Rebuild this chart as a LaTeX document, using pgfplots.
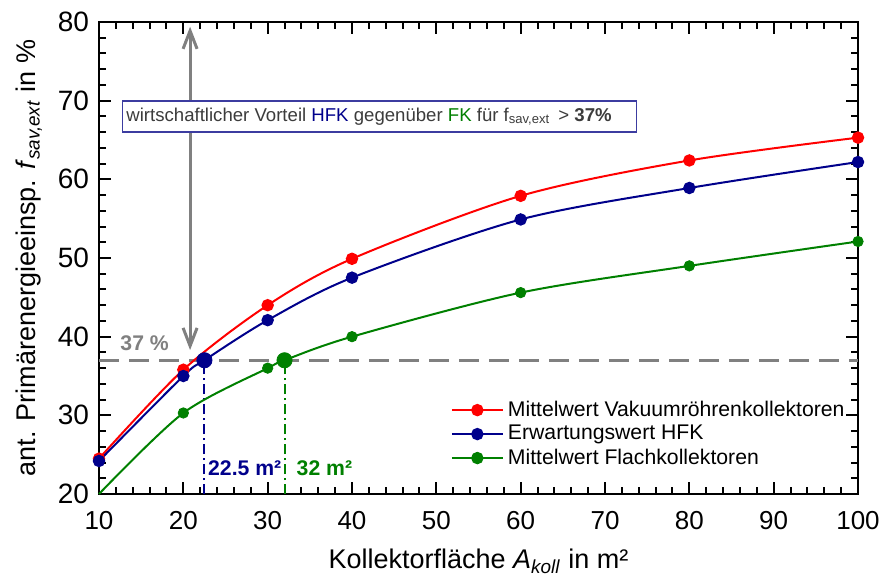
\documentclass[border=0pt]{standalone}
\usepackage{fontspec}
\setmainfont{Liberation Sans}
\usepackage{pgfplots}
\pgfplotsset{compat=1.18}
\usetikzlibrary{arrows.meta}
\definecolor{vred}{RGB}{255,0,0}
\definecolor{hblue}{RGB}{0,0,139}
\definecolor{fgreen}{RGB}{0,128,0}
\definecolor{agray}{RGB}{128,128,128}
\definecolor{boxblue}{RGB}{60,60,160}
\definecolor{txtgray}{RGB}{60,60,60}
\newcommand\tickfont{\fontsize{13}{15}\selectfont}
\newcommand\ytickfont{\fontsize{14}{16}\selectfont}
\newcommand\labfont{\fontsize{13.5}{16}\selectfont}
\newcommand\legfont{\fontsize{10.6}{12}\selectfont}
\newcommand\boxfont{\fontsize{9.3}{11}\selectfont}
\begin{document}
\begin{tikzpicture}
\begin{axis}[
  name=ax,
  width=379.5pt, height=236pt, scale only axis,
  xmin=10, xmax=100, ymin=20, ymax=80,
  xtick={10,20,...,100}, ytick={20,30,...,80},
  minor x tick num=4, minor y tick num=4,
  tick align=inside,
  major tick length=6pt, minor tick length=3.5pt,
  every tick/.style={black, line width=1pt},
  axis line style={line width=1pt},
  /pgf/number format/assume math mode=true,
  xticklabel style={font=\tickfont, yshift=-5pt},
  yticklabel style={font=\ytickfont, xshift=-1.5pt},
  xlabel={Kollektorfläche \textit{A}\textsubscript{\textit{koll}} in m²},
  ylabel={ant. Primärenergieeinsp. \textit{f}\textsubscript{\textit{sav,ext}} in \%},
  label style={font=\labfont},
  xlabel style={yshift=-3pt},
  ylabel style={yshift=1pt},
  legend style={font=\legfont, draw=none, fill=none, at={(0.455,0.215)}, anchor=north west, row sep=-1pt},
  legend cell align=left,
  legend image code/.code={\draw[mark repeat=2,mark phase=2] plot coordinates {(0cm,0cm)(0.45cm,0cm)(0.9cm,0cm)};},
  clip=false,
]
% 37 % line
\addplot[agray, line width=1.3pt, dash pattern=on 10pt off 5pt, forget plot] coordinates {(10,37) (100,37)};
% dash-dot verticals
\addplot[hblue, line width=1pt, dash pattern=on 5pt off 2pt on 1pt off 2pt, forget plot] coordinates {(22.5,20) (22.5,37)};
\addplot[fgreen, line width=1pt, dash pattern=on 5pt off 2pt on 1pt off 2pt, forget plot] coordinates {(32,20) (32,37)};
% arrow
\addplot[agray, line width=1.5pt, {Straight Barb[length=9pt,width=7pt]}-{Straight Barb[length=9pt,width=7pt]}, forget plot] coordinates {(20.8,38.3) (20.8,79.4)};
% series
\addplot[vred, line width=1pt, smooth, mark=*, mark size=2.6pt, mark options={solid, fill=vred}] coordinates {
(10,24.5) (20,35.8) (30,44.0) (40,49.9) (60,57.9) (80,62.4) (100,65.3)};
\addlegendentry{Mittelwert Vakuumröhrenkollektoren}
\addplot[hblue, line width=1pt, smooth, mark=*, mark size=2.6pt, mark options={solid, fill=hblue}] coordinates {
(10,24.2) (20,35.0) (22.5,37.0) (30,42.1) (40,47.5) (60,54.9) (80,58.9) (100,62.2)};
\addlegendentry{Erwartungswert HFK}
\addplot[fgreen, line width=1pt, smooth, forget plot] coordinates {
(10,20.0) (20,30.3) (30,36.0) (32,37.0) (40,40.0) (60,45.6) (80,49.0) (100,52.1)};
\addplot[fgreen, only marks, mark=*, mark size=2.6pt, forget plot] coordinates {
(20,30.3) (30,36.0) (40,40.0) (60,45.6) (80,49.0) (100,52.1)};
\addlegendimage{fgreen, line width=1pt, mark=*, mark size=2.6pt, mark options={solid, fill=fgreen}}
\addlegendentry{Mittelwert Flachkollektoren}
% big markers
\addplot[only marks, mark=*, mark size=3.8pt, hblue, forget plot] coordinates {(22.5,37)};
\addplot[only marks, mark=*, mark size=3.8pt, fgreen, forget plot] coordinates {(32,37)};
% annotations
\node[draw=boxblue, fill=white, line width=0.7pt, anchor=west, minimum height=15.5pt, minimum width=257pt, inner xsep=2pt, inner ysep=2pt, text=txtgray, font=\boxfont] (bx) at (axis cs:12.73,68) {};
\node[anchor=west, text=txtgray, font=\boxfont, inner sep=0pt] at ([xshift=2pt]bx.west) {wirtschaftlicher Vorteil \textcolor{hblue}{HFK} gegenüber \textcolor{fgreen}{FK} für f\textsubscript{sav,ext}\, > \textbf{37\%}};
\node[anchor=base west, text=agray, font=\legfont\bfseries, inner sep=0pt] at (axis cs:12.5,38.3) {37 \%};
\node[anchor=base west, text=hblue, font=\legfont\bfseries, inner sep=0pt] at (axis cs:22.9,22.4) {22.5 m²};
\node[anchor=base west, text=fgreen, font=\legfont\bfseries, inner sep=0pt] at (axis cs:33.4,22.4) {32 m²};
\coordinate (sw) at (rel axis cs:0,0);
\coordinate (ne) at (rel axis cs:1,1);
\end{axis}
\pgfresetboundingbox
\path ([shift={(-49.5pt,-44.5pt)}]sw) rectangle ([shift={(10.5pt,11pt)}]ne);
\end{tikzpicture}
\end{document}
